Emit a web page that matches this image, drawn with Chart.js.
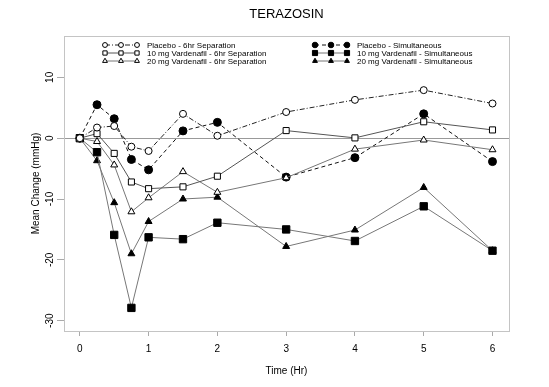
<!DOCTYPE html>
<html>
<head>
<meta charset="utf-8">
<script src="https://cdn.jsdelivr.net/npm/chart.js@4.4.1/dist/chart.umd.min.js"></script>
<style>
  html, body { margin: 0; padding: 0; background: #fff; }
  #wrap { width: 549px; height: 387px; }
</style>
</head>
<body>
<div id="wrap"><canvas id="chart" width="549" height="387"></canvas></div>
<script>
// hours after dose
const times = [0, 0.25, 0.5, 0.75, 1, 1.5, 2, 3, 4, 5, 6];

// mean change in mmHg
const placebo6hr = [0, 1.75, 2.0, -1.4, -2.1, 4.0, 0.4, 4.3, 6.3, 7.9, 5.7];
const vard10_6hr = [0, 0.75, -2.5, -7.2, -8.3, -8.0, -6.25, 1.25, 0.05, 2.7, 1.36];
const vard20_6hr = [0, -0.55, -4.4, -12.1, -9.8, -5.5, -8.9, -6.5, -1.8, -0.3, -1.9];
const placeboSim = [0, 5.5, 3.2, -3.5, -5.2, 1.2, 2.6, -6.4, -3.2, 4.0, -3.85];
const vard10Sim = [0, -2.3, -15.9, -27.9, -16.3, -16.6, -13.9, -15.0, -16.9, -11.2, -18.5];
const vard20Sim = [0, -3.7, -10.6, -19.0, -13.7, -10.0, -9.7, -17.8, -15.1, -8.1, -18.5];

const xTicks = [0, 1, 2, 3, 4, 5, 6];
const yTicks = [-30, -20, -10, 0, 10];

const labels = [
    'Placebo - 6hr Separation',
    '10 mg Vardenafil - 6hr Separation',
    '20 mg Vardenafil - 6hr Separation',
    'Placebo - Simultaneous',
    '10 mg Vardenafil - Simultaneous',
    '20 mg Vardenafil - Simultaneous'
];

const FONT = 'Arial, "Liberation Sans", sans-serif';

function toPoints(values) {
    return times.map((t, i) => ({ x: t, y: values[i] }));
}

function series(label, values, style) {
    return Object.assign({
        label: label,
        data: toPoints(values),
        borderWidth: 1,
        pointBorderWidth: 1,
        pointBorderColor: '#000',
        fill: false,
        tension: 0
    }, style);
}

const datasets = [
    series(labels[0], placebo6hr, {
        borderColor: '#222', borderDash: [5, 2, 1, 2],
        pointStyle: 'circle', pointRadius: 3.5, pointBackgroundColor: '#fff'
    }),
    series(labels[1], vard10_6hr, {
        borderColor: '#555',
        pointStyle: 'rect', pointRadius: 4.3, pointBackgroundColor: '#fff'
    }),
    series(labels[2], vard20_6hr, {
        borderColor: '#777',
        pointStyle: 'triangle', pointRadius: 4, pointBackgroundColor: '#fff'
    }),
    series(labels[3], placeboSim, {
        borderColor: '#111', borderDash: [4, 3],
        pointStyle: 'circle', pointRadius: 4, pointBackgroundColor: '#000'
    }),
    series(labels[4], vard10Sim, {
        borderColor: '#777',
        pointStyle: 'rect', pointRadius: 5.2, pointBackgroundColor: '#000'
    }),
    series(labels[5], vard20Sim, {
        borderColor: '#777',
        pointStyle: 'triangle', pointRadius: 4, pointBackgroundColor: '#000'
    })
];

// box round the plot, title and two-column legend
const framePlugin = {
    id: 'frame',
    beforeDatasetsDraw(chart) {
        const { ctx, chartArea: a } = chart;
        ctx.save();
        ctx.strokeStyle = '#c4c4c4';
        ctx.lineWidth = 1;
        ctx.strokeRect(a.left + 0.5, a.top + 0.5, a.right - a.left, a.bottom - a.top);
        ctx.restore();
    },
    afterDraw(chart) {
        const { ctx, chartArea: a } = chart;
        ctx.save();
        ctx.fillStyle = '#000';
        ctx.font = '13px ' + FONT;
        ctx.textAlign = 'center';
        ctx.textBaseline = 'middle';
        ctx.fillText('TERAZOSIN', (a.left + a.right) / 2, 14);

        const cols = [105, 315];
        const rows = [45, 53, 61];
        ctx.font = '8px ' + FONT;
        ctx.textAlign = 'left';
        chart.data.datasets.forEach((ds, i) => {
            const x0 = cols[Math.floor(i / 3)];
            const y = rows[i % 3];
            ctx.save();
            ctx.strokeStyle = ds.borderColor;
            ctx.lineWidth = 1;
            ctx.setLineDash(ds.borderDash || []);
            ctx.beginPath();
            ctx.moveTo(x0, y);
            ctx.lineTo(x0 + 32, y);
            ctx.stroke();
            ctx.setLineDash([]);
            ctx.fillStyle = ds.pointBackgroundColor;
            ctx.strokeStyle = '#000';
            [0, 16, 32].forEach(dx => {
                Chart.helpers.drawPoint(ctx, {
                    pointStyle: ds.pointStyle,
                    radius: ds.pointRadius * 0.7,
                    rotation: 0,
                    borderWidth: 1
                }, x0 + dx, y);
            });
            ctx.restore();
            ctx.fillStyle = '#000';
            ctx.fillText(ds.label, x0 + 42, y + 0.5);
        });
        ctx.restore();
    }
};

new Chart(document.getElementById('chart').getContext('2d'), {
    type: 'line',
    data: { datasets: datasets },
    plugins: [framePlugin],
    options: {
        responsive: false,
        animation: false,
        layout: { padding: { top: 36, right: 40, left: 0, bottom: 0 } },
        plugins: {
            legend: { display: false },
            title: { display: false },
            tooltip: { enabled: false }
        },
        scales: {
            x: {
                type: 'linear',
                min: -0.23,
                max: 6.24,
                afterBuildTicks: scale => { scale.ticks = xTicks.map(v => ({ value: v })); },
                afterFit: scale => { scale.height = 56; },
                border: { display: false },
                grid: { drawOnChartArea: false, drawTicks: true, tickLength: 5, tickColor: '#aaa' },
                ticks: { color: '#000', font: { family: FONT, size: 10 }, padding: 7, maxRotation: 0 },
                title: {
                    display: true, text: 'Time (Hr)', color: '#000',
                    font: { family: FONT, size: 10 }, padding: { top: 0, bottom: 10 }
                }
            },
            y: {
                min: -31.7,
                max: 16.8,
                afterBuildTicks: scale => { scale.ticks = yTicks.map(v => ({ value: v })); },
                afterFit: scale => { scale.width = 64; },
                border: { display: false },
                grid: {
                    drawTicks: true, tickLength: 7, tickColor: '#aaa',
                    color: c => (c.tick && c.tick.value === 0) ? '#999' : 'rgba(0,0,0,0)'
                },
                ticks: {
                    color: '#000', font: { family: FONT, size: 10 },
                    minRotation: 90, maxRotation: 90, crossAlign: 'center', padding: 0
                },
                title: {
                    display: true, text: 'Mean Change (mmHg)', color: '#000',
                    font: { family: FONT, size: 10 }, padding: { top: 30, bottom: 0 }
                }
            }
        }
    }
});
</script>
</body>
</html>
